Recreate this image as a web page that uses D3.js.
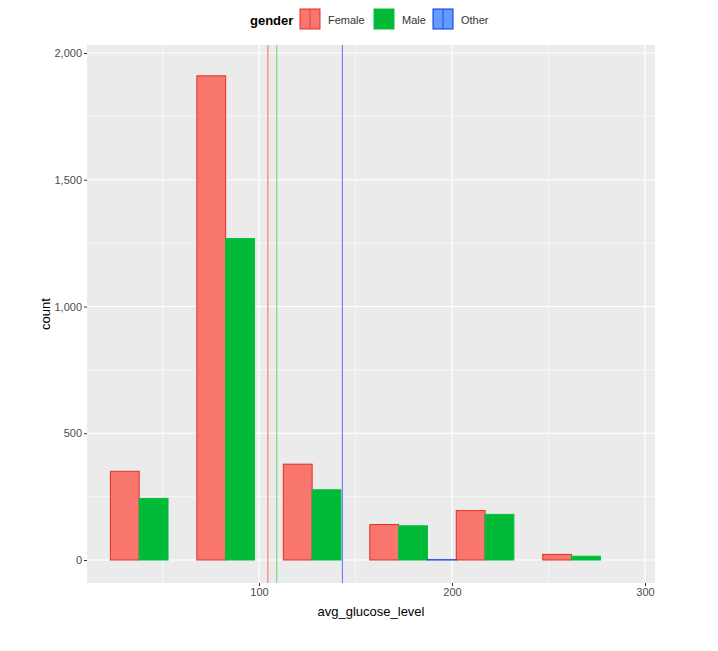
<!DOCTYPE html>
<html><head><meta charset="utf-8">
<script src="https://cdn.jsdelivr.net/npm/d3@7"></script>
<style>body{margin:0;background:#fff;font-family:Arial,"Liberation Sans",sans-serif}</style>
</head><body>
<svg id="chart" width="718" height="651"></svg>
<script>
const groups = ["Female", "Male", "Other"];
const binEdges = [23, 67.8, 112.6, 157.4, 202.2, 247, 291.8];
const female = [350, 1910, 378, 140, 195, 22];
const male = [243, 1268, 277, 135, 180, 15];
const other = [0, 0, 0, 1, 0, 0];
const means = [104.6, 109.2, 143.2];
const fills = ["#F8766D", "#00BA38", "#619CFF"];
const strokes = ["#E0302A", "#00C040", "#1030E0"];
const lineCols = ["rgba(255,0,0,0.55)", "rgba(0,200,0,0.55)", "rgba(0,0,255,0.55)"];
const xTicks = [100, 200, 300];
const yTicks = [0, 500, 1000, 1500, 2000];

const svg = d3.select("#chart");
const L = 87, R = 655, T = 45, B = 583;
const x = d3.scaleLinear().domain([100, 300]).range([259, 645]);
const y = d3.scaleLinear().domain([0, 2000]).range([560, 53]);

svg.append("rect").attr("x", L).attr("y", T).attr("width", R - L).attr("height", B - T).attr("fill", "#EBEBEB");
// minor grid
const xMinor = [50, 150, 250], yMinor = [250, 750, 1250, 1750];
xMinor.forEach(v => svg.append("line").attr("x1", x(v)).attr("x2", x(v)).attr("y1", T).attr("y2", B).attr("stroke", "#fff").attr("stroke-width", 0.6));
yMinor.forEach(v => svg.append("line").attr("x1", L).attr("x2", R).attr("y1", y(v)).attr("y2", y(v)).attr("stroke", "#fff").attr("stroke-width", 0.6));
xTicks.forEach(v => svg.append("line").attr("x1", x(v)).attr("x2", x(v)).attr("y1", T).attr("y2", B).attr("stroke", "#fff").attr("stroke-width", 1.2));
yTicks.forEach(v => svg.append("line").attr("x1", L).attr("x2", R).attr("y1", y(v)).attr("y2", y(v)).attr("stroke", "#fff").attr("stroke-width", 1.2));

const series = [female, male, other];
series.forEach((vals, g) => {
  vals.forEach((v, i) => {
    const w = (binEdges[i + 1] - binEdges[i]) / 3;
    const x0 = binEdges[i] + g * w;
    svg.append("rect")
      .attr("x", x(x0)).attr("width", x(x0 + w) - x(x0))
      .attr("y", y(v)).attr("height", Math.max(0, y(0) - y(v)))
      .attr("fill", fills[g]).attr("stroke", strokes[g]).attr("stroke-width", 1);
  });
});

means.forEach((m, g) => svg.append("line").attr("x1", x(m)).attr("x2", x(m)).attr("y1", T).attr("y2", B)
  .attr("stroke", lineCols[g]).attr("stroke-width", 1));

// axes
const xa = svg.append("g").attr("transform", `translate(0,${B})`)
  .call(d3.axisBottom(x).tickValues(xTicks).tickSize(3).tickPadding(2));
const ya = svg.append("g").attr("transform", `translate(${L},0)`)
  .call(d3.axisLeft(y).tickValues(yTicks).tickSize(3).tickPadding(2));
[xa, ya].forEach(a => {
  a.select(".domain").remove();
  a.selectAll("line").attr("stroke", "#333");
  a.selectAll("text").attr("fill", "#4D4D4D").attr("font-size", 11).attr("font-family", "Arial,Liberation Sans");
});
svg.append("text").attr("x", (L + R) / 2).attr("y", 616).attr("text-anchor", "middle")
  .attr("font-size", 13).attr("fill", "#000").text("avg_glucose_level");
svg.append("text").attr("transform", `translate(50,${(T + B) / 2}) rotate(-90)`).attr("text-anchor", "middle")
  .attr("font-size", 13).attr("fill", "#000").text("count");

// legend
svg.append("text").attr("x", 250).attr("y", 25).attr("font-size", 13).attr("font-weight", "bold").text("gender");
const legX = [300, 374, 433];
groups.forEach((g, i) => {
  const lx = legX[i];
  svg.append("rect").attr("x", lx).attr("y", 9).attr("width", 20).attr("height", 20)
    .attr("fill", fills[i]).attr("stroke", strokes[i]);
  svg.append("line").attr("x1", lx + 10).attr("x2", lx + 10).attr("y1", 9).attr("y2", 29).attr("stroke", lineCols[i]);
  svg.append("text").attr("x", lx + 28).attr("y", 24).attr("font-size", 11).attr("fill", "#333").text(g);
});
</script>
</body></html>
